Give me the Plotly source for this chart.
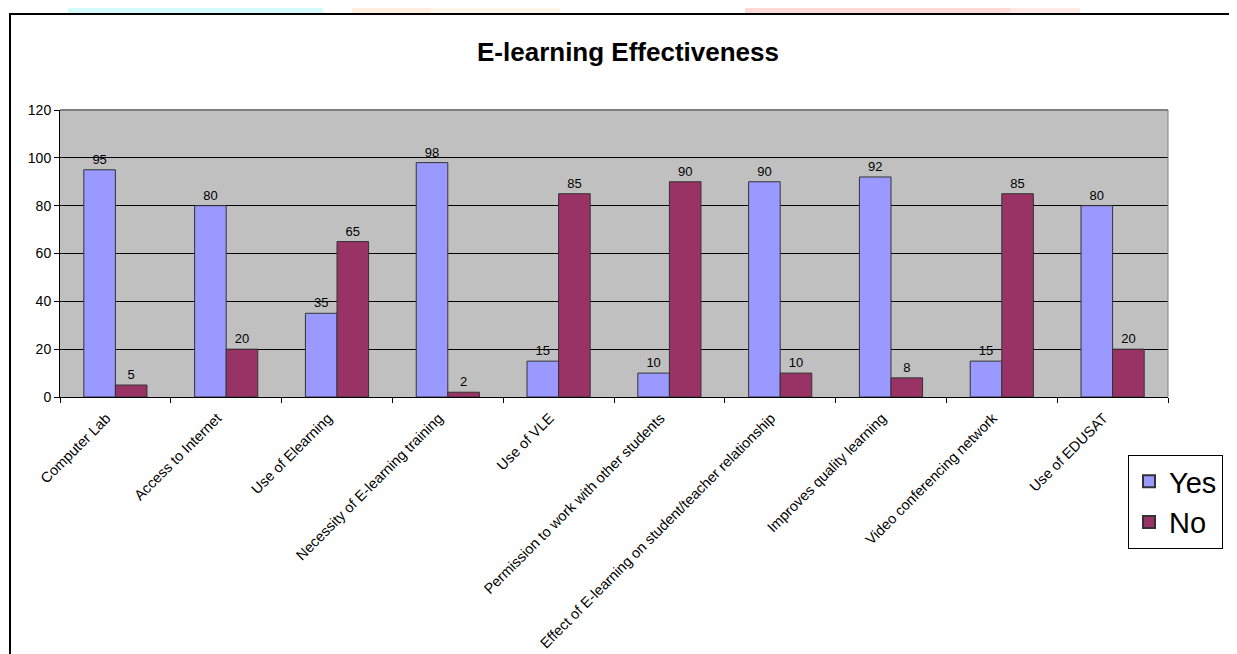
import plotly.graph_objects as go

categories = [
    "Computer Lab",
    "Access to Internet",
    "Use of Elearning",
    "Necessity of E-learning training",
    "Use of VLE",
    "Permission to work with other students",
    "Effect of E-learning on student/teacher relationship",
    "Improves quality learning",
    "Video conferencing network",
    "Use of EDUSAT",
]
yes_values = [95, 80, 35, 98, 15, 10, 90, 92, 15, 80]
no_values = [5, 20, 65, 2, 85, 90, 10, 8, 85, 20]
y_ticks = [0, 20, 40, 60, 80, 100, 120]

W, H = 1237, 654          # page size
OFF = 8                   # default body margin of the html page
FW, FH = W - OFF, H - OFF  # figure size
L, R, T, B = 60, 1168, 110, 397  # plot area in page pixels


def px(x):
    return (x - L) / (R - L)


def py(y):
    return (B - y) / (B - T)


FONT = "Arial, Liberation Sans, sans-serif"

fig = go.Figure()
fig.add_trace(go.Bar(
    name="Yes", x=categories, y=yes_values,
    marker=dict(color="#9999FF", line=dict(color="#333333", width=1)),
    text=yes_values, textposition="outside", cliponaxis=False,
    textfont=dict(size=13, color="black", family=FONT),
))
fig.add_trace(go.Bar(
    name="No", x=categories, y=no_values,
    marker=dict(color="#993366", line=dict(color="#333333", width=1)),
    text=no_values, textposition="outside", cliponaxis=False,
    textfont=dict(size=13, color="black", family=FONT),
))

shapes = []
# faint watermark banner above the frame
for x0, x1, col in [(68, 323, "#D6F9FB"), (352, 430, "#FFEFE0"), (430, 560, "#FFF5EA"),
                    (745, 1010, "#FFD9D3"), (1010, 1080, "#FFE9E6")]:
    shapes.append(dict(type="rect", xref="paper", yref="paper",
                       x0=px(x0), x1=px(x1), y0=py(13), y1=py(0),
                       line=dict(width=0), fillcolor=col, layer="below"))
# chart frame
shapes.append(dict(type="line", xref="paper", yref="paper",
                   x0=px(9), x1=px(1240), y0=py(14), y1=py(14),
                   line=dict(color="black", width=2)))
shapes.append(dict(type="line", xref="paper", yref="paper",
                   x0=px(10), x1=px(10), y0=py(14), y1=py(660),
                   line=dict(color="black", width=2)))
# plot area border (top and right, gray)
shapes.append(dict(type="line", xref="paper", yref="paper",
                   x0=0, x1=1, y0=1, y1=1, line=dict(color="#808080", width=2)))
shapes.append(dict(type="line", xref="paper", yref="paper",
                   x0=1, x1=1, y0=0, y1=1, line=dict(color="#808080", width=1)))

fig.update_layout(
    width=FW, height=FH,
    margin=dict(l=L - OFF, r=W - R, t=T - OFF, b=H - B, autoexpand=False),
    paper_bgcolor="white",
    plot_bgcolor="#C0C0C0",
    barmode="group",
    bargap=0.43,
    bargroupgap=0,
    font=dict(family=FONT, color="black"),
    title=dict(text="<b>E-learning Effectiveness</b>", x=(628 - OFF) / FW, xanchor="center",
               y=1 - (52 - OFF) / FH, yanchor="middle",
               font=dict(size=26, family=FONT, color="black")),
    showlegend=True,
    legend=dict(x=px(1128), y=py(455), xanchor="left", yanchor="top",
                bordercolor="black", borderwidth=1, bgcolor="white",
                font=dict(size=29, family=FONT, color="black"),
                itemsizing="constant"),
    shapes=shapes,
)
fig.update_xaxes(
    type="category", tickangle=-45, tickfont=dict(size=14.5, family=FONT, color="black"),
    ticklabelshift=-9, ticklabelstandoff=6, automargin=False,
    showline=True, linecolor="black", linewidth=1,
    ticks="outside", ticklen=5, tickcolor="black", tickson="boundaries",
    showgrid=False,
)
fig.update_yaxes(
    range=[0, 120], tickvals=y_ticks, tickfont=dict(size=14, family=FONT, color="black"),
    automargin=False,
    showline=True, linecolor="black", linewidth=1,
    ticks="outside", ticklen=5, tickcolor="black",
    showgrid=True, gridcolor="black", gridwidth=1, zeroline=False,
)

fig.write_html("out.html")
